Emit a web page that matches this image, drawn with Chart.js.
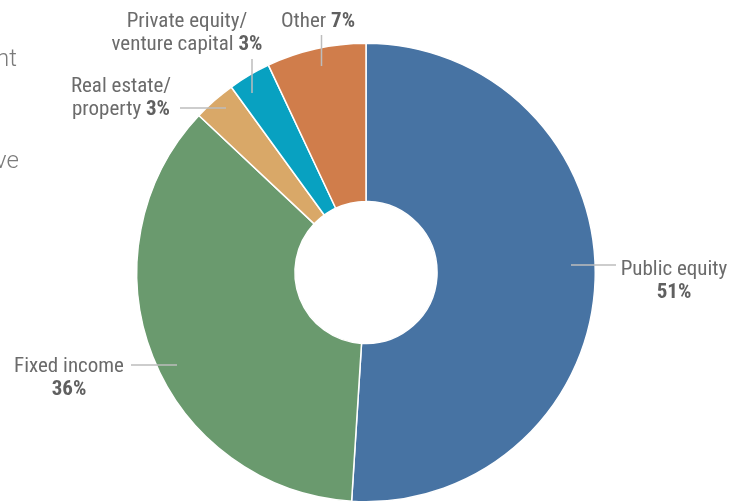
<!DOCTYPE html>
<html>
<head>
<meta charset="utf-8">
<script src="https://cdn.jsdelivr.net/npm/chart.js@4/dist/chart.umd.min.js"></script>
<style>
  html, body { margin: 0; padding: 0; background: #fff; }
  #wrap { width: 744px; height: 503px; position: relative; }
</style>
</head>
<body>
<div id="wrap"><canvas id="pie"></canvas></div>
<script>
/* Asset allocation doughnut */
const categories = ['Public equity', 'Fixed income', 'Real estate/property', 'Private equity/venture capital', 'Other'];
const shares     = [51, 36, 3, 3, 7];
const colours    = ['#4773a3', '#6a9a6e', '#d9a868', '#08a1c1', '#d07d4b'];

const FONT = '"Liberation Sans Narrow", "Roboto Condensed", "Liberation Sans", sans-serif';
const TEXT = '#6b6b6b';
const LEAD = '#bdbdbd';

/* label text: each line is a list of [text, bold] runs */
const labelText = [
  [[['Public equity', false]], [[shares[0] + '%', true]]],
  [[['Fixed income', false]], [[shares[1] + '%', true]]],
  [[['Real estate/', false]], [['property ', false], [shares[2] + '%', true]]],
  [[['Private equity/', false]], [['venture capital ', false], [shares[3] + '%', true]]],
  [[['Other ', false], [shares[4] + '%', true]]],
];

/* layout of the callouts (centre x, first baseline, leader segment) */
const callouts = [
  { x: 674, y: 275, lead: [571, 265, 616, 265] },
  { x: 69,  y: 372, lead: [131, 365, 177, 365] },
  { x: 121, y: 92,  lead: [180, 108, 226, 108] },
  { x: 187, y: 27,  lead: [252, 59, 252, 93] },
  { x: 318, y: 27,  lead: [321.5, 35, 321.5, 66] },
];

function drawRuns(ctx, runs, cx, y) {
  const fontFor = b => (b ? 'bold ' : '') + '21px ' + FONT;
  let total = 0;
  runs.forEach(r => { ctx.font = fontFor(r[1]); total += ctx.measureText(r[0]).width; });
  let x = cx - total / 2;
  runs.forEach(r => {
    ctx.font = fontFor(r[1]);
    ctx.fillStyle = r[1] ? '#606060' : TEXT;
    ctx.fillText(r[0], x, y);
    x += ctx.measureText(r[0]).width;
  });
}

const calloutPlugin = {
  id: 'callouts',
  afterDraw(chart) {
    const { ctx } = chart;
    ctx.save();
    ctx.textBaseline = 'alphabetic';
    ctx.textAlign = 'left';

    // cropped side text from the neighbouring column
    ctx.font = '300 24px Roboto, "Liberation Sans", sans-serif';
    ctx.fillStyle = '#7a7a7a';
    ctx.fillText('nt', -4, 66);
    ctx.fillText('ve', -5, 168);

    callouts.forEach((c, i) => {
      const l = c.lead;
      ctx.strokeStyle = LEAD;
      ctx.lineWidth = 1.5;
      ctx.beginPath();
      ctx.moveTo(l[0], l[1]);
      ctx.lineTo(l[2], l[3]);
      ctx.stroke();
      labelText[i].forEach((runs, k) => drawRuns(ctx, runs, c.x, c.y + k * 22.5));
    });
    ctx.restore();
  },
};

new Chart(document.getElementById('pie'), {
  type: 'doughnut',
  data: {
    labels: categories,
    datasets: [{
      data: shares,
      backgroundColor: colours,
      borderColor: '#ffffff',
      borderWidth: 1.5,
      hoverOffset: 0,
    }],
  },
  options: {
    responsive: true,
    maintainAspectRatio: false,
    animation: false,
    cutout: '31%',
    layout: { padding: { left: 136, right: 148, top: 42, bottom: 0 } },
    events: [],
    plugins: {
      legend: { display: false },
      tooltip: { enabled: false },
    },
  },
  plugins: [calloutPlugin],
});
</script>
</body>
</html>
